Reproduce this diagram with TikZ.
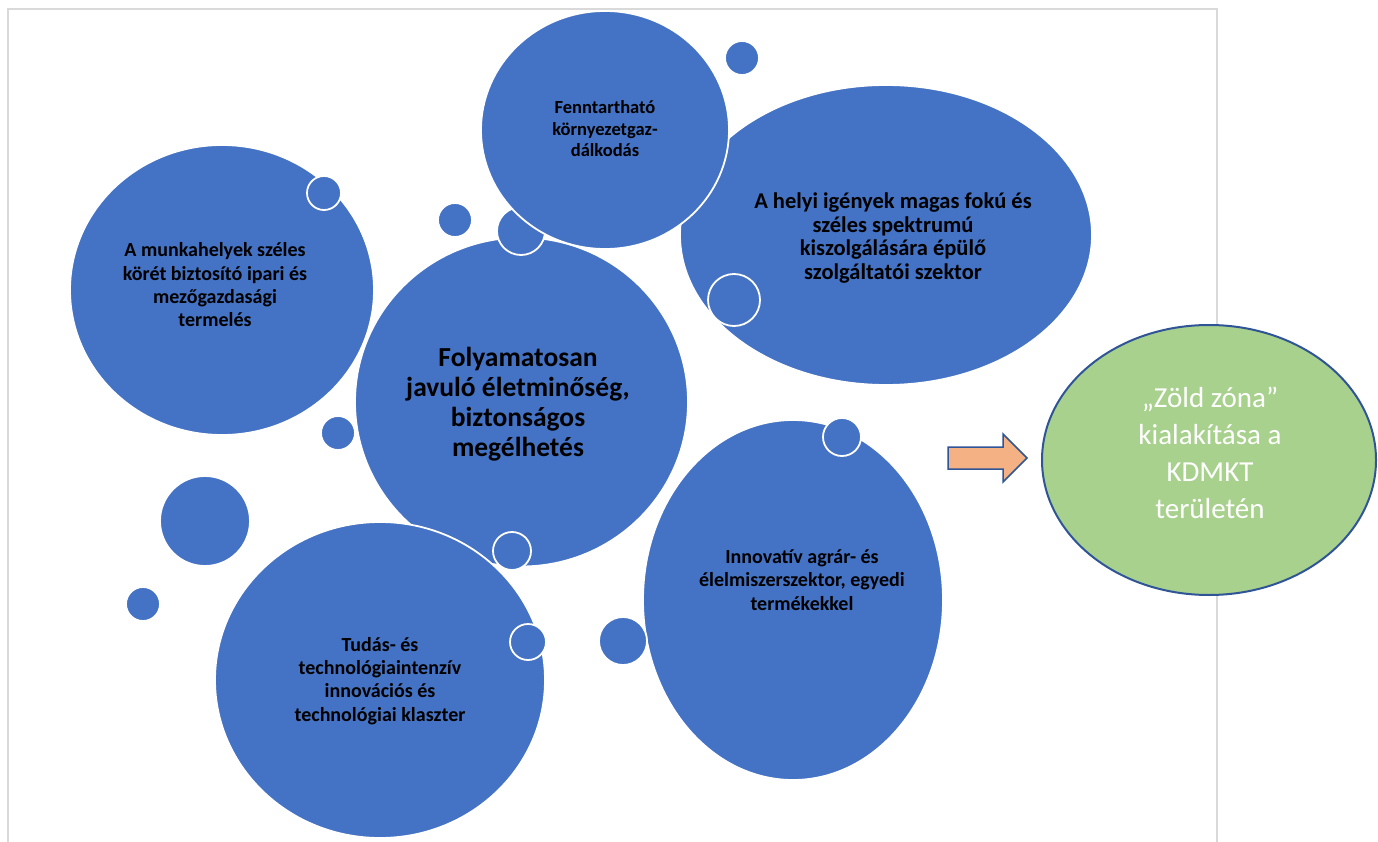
\documentclass[tikz,border=0pt]{standalone}
\usepackage{fontspec}
\setmainfont{Carlito}
\definecolor{bblue}{HTML}{4472C4}
\definecolor{dblue}{HTML}{2F5597}
\definecolor{agreen}{HTML}{A9D18E}
\definecolor{aorange}{HTML}{F4B183}
\definecolor{framegray}{HTML}{D9D9D9}
\begin{document}
\begin{tikzpicture}[x=1pt,y=-1pt,
  bubble/.style={fill=bblue, draw=white, line width=1.8pt},
  lbl/.style={font=\bfseries\fontsize{20}{23.3}\selectfont, align=center, text=black, inner sep=0pt},
  lblwide/.style={font=\bfseries\fontsize{22.5}{23.5}\selectfont, align=center, text=black, inner sep=0pt},
  lblsmall/.style={font=\bfseries\fontsize{18.5}{21.5}\selectfont, align=center, text=black, inner sep=0pt},
  lblbig/.style={font=\bfseries\fontsize{27.5}{30}\selectfont, align=center, text=black, inner sep=0pt},
  greenlbl/.style={font=\fontsize{29}{37}\selectfont, align=center, text=white, inner sep=0pt},
  framestyle/.style={draw=framegray, line width=2pt}]
\useasboundingbox (0,0) rectangle (1378,842);
% page frame
\draw[framestyle] (7.5,860) -- (7.5,9) -- (1217,9) -- (1217,860);
% large bubbles
\path[bubble] (222,290) ellipse [x radius=152pt, y radius=145pt];
\path[bubble] (886,235) ellipse [x radius=206pt, y radius=150pt];
\path[bubble] (521.5,402) ellipse [x radius=166.5pt, y radius=164.5pt];
\path[bubble] (521,231) circle [radius=24pt];
\path[bubble] (605,130) ellipse [x radius=124pt, y radius=119pt];
\path[bubble] (380,680) ellipse [x radius=165pt, y radius=158pt];
\path[bubble] (793,600) ellipse [x radius=150pt, y radius=180pt];
% small bubbles
\path[bubble] (742,58) circle [radius=17pt];
\path[bubble] (455,220) circle [radius=17pt];
\path[bubble] (324,193) circle [radius=17pt];
\path[bubble] (734,300) circle [radius=26pt];
\path[bubble] (338,433) circle [radius=17pt];
\path[bubble] (205,521) circle [radius=45pt];
\path[bubble] (143,604) circle [radius=17pt];
\path[bubble] (512,551) circle [radius=19pt];
\path[bubble] (528,642) circle [radius=18pt];
\path[bubble] (623,641) circle [radius=24pt];
\path[bubble] (842,437) circle [radius=19pt];
% labels
\node[lbl] (tleft) at (215,285) {A munkahelyek széles\\körét biztosító ipari és\\mezőgazdasági\\termelés};
\node[lblsmall] (tfenn) at (605,129) {Fenntartható\\környezetgaz-\\dálkodás};
\node[lblwide] (tright) at (893,238) {A helyi igények magas fokú és\\széles spektrumú\\kiszolgálására épülő\\szolgáltatói szektor};
\node[lblbig] (tcent) at (518,404) {Folyamatosan\\javuló életminőség,\\biztonságos\\megélhetés};
\node[lbl] (ttudas) at (380,681) {Tudás- és\\technológiaintenzív\\innovációs és\\technológiai klaszter};
\node[lbl] (tinnov) at (802,580) {Innovatív agrár- és\\élelmiszerszektor, egyedi\\termékekkel};
% arrow
\draw[fill=aorange, draw=dblue, line width=1.5pt, line join=miter]
  (948,447) -- (1003,447) -- (1003,434) -- (1027,458) -- (1003,482) -- (1003,469) -- (948,469) -- cycle;
% goal ellipse
\path[fill=agreen, draw=dblue, line width=2pt] (1209,460) ellipse [x radius=167pt, y radius=135pt];
\node[greenlbl] (tgreen) at (1210,453) {„Zöld zóna”\\kialakítása a\\KDMKT\\területén};
\end{tikzpicture}
\end{document}
